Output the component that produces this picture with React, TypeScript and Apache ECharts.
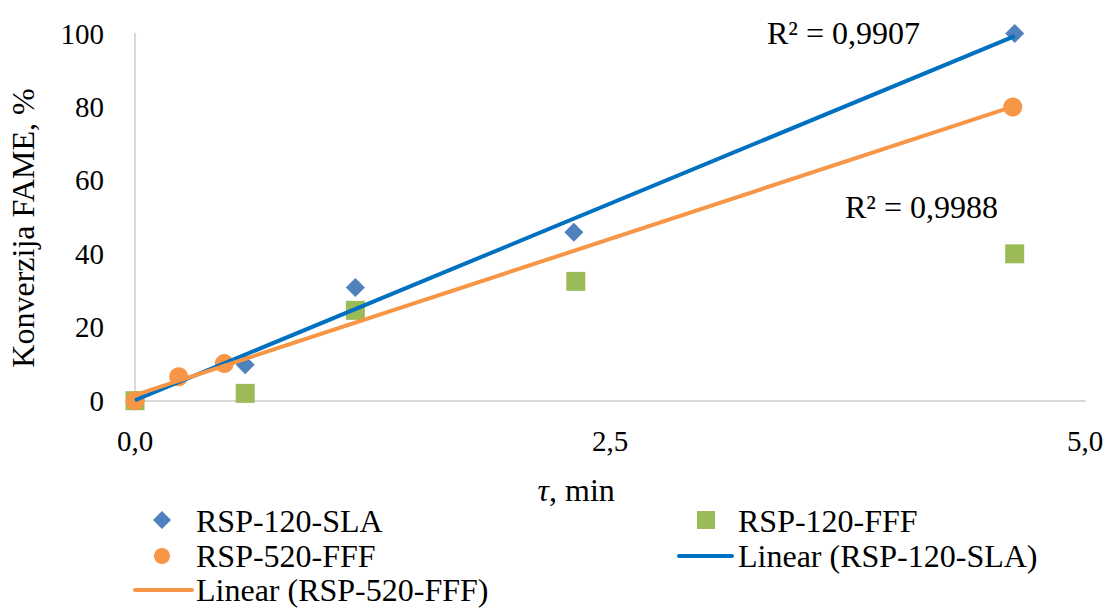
import React, { useEffect, useRef } from "react";
import * as echarts from "echarts";

// RSP-120-SLA (blue diamonds)
const slaX = [0, 0.58, 1.16, 2.31, 4.63];
const slaY = [0, 9.8, 30.8, 45.9, 100];
// RSP-120-FFF (green squares)
const fff120X = [0, 0.58, 1.16, 2.32, 4.63];
const fff120Y = [0, 2.0, 24.6, 32.5, 40.0];
// RSP-520-FFF (orange circles)
const fff520X = [0, 0.23, 0.47, 4.62];
const fff520Y = [0, 6.5, 10.1, 80.0];

const seriesNames = ["RSP-120-SLA", "RSP-120-FFF", "RSP-520-FFF", "Linear (RSP-120-SLA)", "Linear (RSP-520-FFF)"];
const r2Labels = ["R² = 0,9907", "R² = 0,9988"];
const yTitle = "Konverzija FAME, %";
const xTitleSymbol = "τ";
const xTitleRest = ", min";

const FAMILY = "Liberation Serif";
const FONT = "'Liberation Serif', 'Times New Roman', serif";
const C_BLUE = "#4F81BD";
const C_GREEN = "#9BBB59";
const C_ORANGE = "#F79646";
const C_BLUE_LINE = "#0070C0";
const C_AXIS = "#D9D9D9";

function pairs(xs: number[], ys: number[]) {
  return xs.map((x, i) => [x, ys[i]]);
}

function linearFit(xs: number[], ys: number[]) {
  const n = xs.length;
  const mx = xs.reduce((a, b) => a + b, 0) / n;
  const my = ys.reduce((a, b) => a + b, 0) / n;
  let sxx = 0;
  let sxy = 0;
  for (let i = 0; i < n; i++) {
    sxx += (xs[i] - mx) * (xs[i] - mx);
    sxy += (xs[i] - mx) * (ys[i] - my);
  }
  const b = sxy / sxx;
  const a = my - b * mx;
  const x0 = Math.min(...xs);
  const x1 = Math.max(...xs);
  return [
    [x0, a + b * x0],
    [x1, a + b * x1],
  ];
}

function txt(x: number, y: number, text: string, align: string, size = 32, style = "") {
  return {
    type: "text",
    x,
    y,
    style: {
      text,
      font: `${style ? style + " " : ""}${size}px ${FONT}`,
      fill: "#000",
      align,
      verticalAlign: "middle",
    },
  };
}

export default function App() {
  const ref = useRef<HTMLDivElement>(null);

  useEffect(() => {
    if (!ref.current) return;
    const chart = echarts.init(ref.current, null, { renderer: "svg" });

    chart.setOption({
      animation: false,
      backgroundColor: "#fff",
      textStyle: { fontFamily: FAMILY },
      grid: { left: 135, right: 23, top: 33.5, bottom: 207.3 },
      xAxis: {
        type: "value",
        min: 0,
        max: 5,
        interval: 2.5,
        axisLine: { show: true, lineStyle: { color: C_AXIS, width: 2 } },
        axisTick: { show: false },
        splitLine: { show: false },
        axisLabel: {
          margin: 26,
          fontFamily: FAMILY,
          fontSize: 29,
          color: "#000",
          formatter: (v: number) => v.toFixed(1).replace(".", ","),
        },
      },
      yAxis: {
        type: "value",
        min: 0,
        max: 100,
        interval: 20,
        axisLine: { show: true, lineStyle: { color: C_AXIS, width: 2 } },
        axisTick: { show: false },
        splitLine: { show: false },
        axisLabel: { margin: 31, fontFamily: FAMILY, fontSize: 29, color: "#000" },
      },
      series: [
        {
          name: seriesNames[0],
          type: "scatter",
          symbol: "diamond",
          symbolSize: 19,
          itemStyle: { color: C_BLUE, opacity: 1 },
          data: pairs(slaX, slaY),
          z: 2,
        },
        {
          name: seriesNames[1],
          type: "scatter",
          symbol: "rect",
          symbolSize: 19,
          itemStyle: { color: C_GREEN, opacity: 1 },
          data: pairs(fff120X, fff120Y),
          z: 3,
        },
        {
          name: seriesNames[2],
          type: "scatter",
          symbol: "circle",
          symbolSize: 19,
          itemStyle: { color: C_ORANGE, opacity: 1 },
          data: pairs(fff520X, fff520Y),
          z: 4,
        },
        {
          name: seriesNames[3],
          type: "line",
          showSymbol: false,
          symbol: "none",
          lineStyle: { color: C_BLUE_LINE, width: 4 },
          data: linearFit(slaX, slaY),
          z: 5,
        },
        {
          name: seriesNames[4],
          type: "line",
          showSymbol: false,
          symbol: "none",
          lineStyle: { color: C_ORANGE, width: 4 },
          data: linearFit(fff520X, fff520Y),
          z: 6,
        },
      ],
      graphic: [
        {
          type: "text",
          x: 23,
          y: 228,
          rotation: Math.PI / 2,
          style: { text: yTitle, font: `32px ${FONT}`, fill: "#000", align: "center", verticalAlign: "middle" },
        },
        txt(549, 490, xTitleSymbol, "right", 32, "italic"),
        txt(549, 490, xTitleRest, "left", 32),
        txt(767, 33, r2Labels[0], "left", 32),
        txt(845, 207, r2Labels[1], "left", 32),
        // Legend column 1
        {
          type: "polygon",
          shape: { points: [[162, 511], [171, 520], [162, 529], [153, 520]] },
          style: { fill: C_BLUE },
        },
        txt(196, 521, seriesNames[0], "left"),
        { type: "circle", shape: { cx: 162, cy: 556, r: 8 }, style: { fill: C_ORANGE } },
        txt(196, 556, seriesNames[2], "left"),
        {
          type: "line",
          shape: { x1: 135, y1: 590, x2: 192, y2: 590 },
          style: { stroke: C_ORANGE, lineWidth: 4, lineCap: "round" },
        },
        txt(196, 590, seriesNames[4], "left"),
        // Legend column 2
        { type: "rect", shape: { x: 697, y: 511, width: 18, height: 18 }, style: { fill: C_GREEN } },
        txt(738, 521, seriesNames[1], "left"),
        {
          type: "line",
          shape: { x1: 679, y1: 556, x2: 732, y2: 556 },
          style: { stroke: C_BLUE_LINE, lineWidth: 4, lineCap: "round" },
        },
        txt(738, 556, seriesNames[3], "left"),
      ],
    });

    return () => chart.dispose();
  }, []);

  return (
    <div
      ref={ref}
      style={{ position: "fixed", left: 0, top: 0, width: 1108, height: 608, background: "#fff" }}
    />
  );
}
